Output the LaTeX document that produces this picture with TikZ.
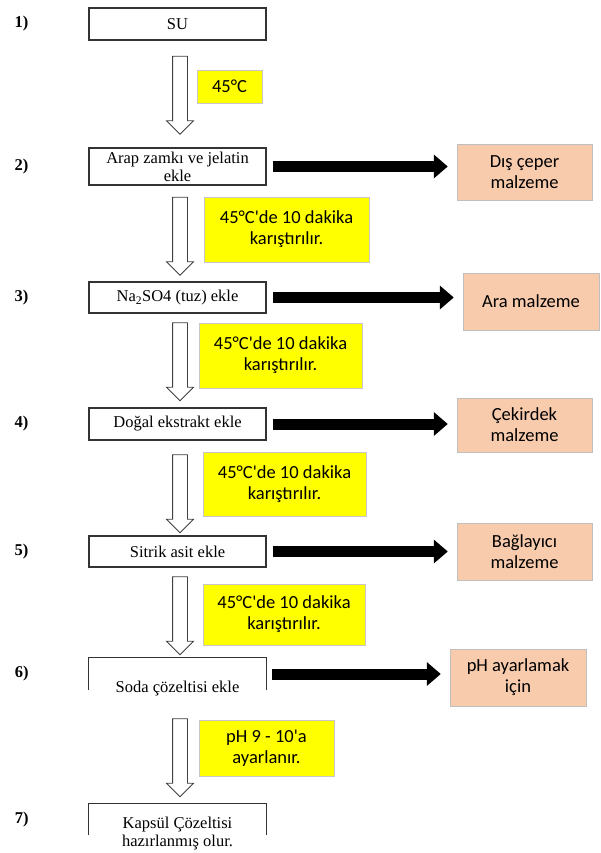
\documentclass[tikz,border=0pt]{standalone}
\usepackage{fontspec}
\setmainfont{Liberation Serif}
\newfontfamily\calibri{Carlito}
\usetikzlibrary{positioning,arrows.meta,shapes.arrows}

\definecolor{peach}{HTML}{F8CBAD}
\definecolor{notebg}{HTML}{FFFF00}

\begin{document}
\begin{tikzpicture}[
  x=1pt, y=-1pt,
  frame/.style={draw=black!80, line width=1.1pt},
  stepbox/.style={frame, minimum width=177pt, minimum height=32pt,
                  inner sep=1pt, align=center,
                  font=\fontsize{16.5}{18}\selectfont},
  openbox/.style={minimum width=177pt, minimum height=32pt, inner sep=0pt},
  steptext/.style={inner sep=0pt, align=center,
                   font=\fontsize{16.5}{18}\selectfont},
  num/.style={inner sep=0pt, font=\fontsize{16.5}{18}\selectfont\bfseries},
  note/.style={fill=notebg, draw=black!22, align=center, inner sep=0pt,
               font=\calibri\fontsize{18.5}{21}\selectfont},
  part/.style={fill=peach, draw=black!25, align=center, inner sep=0pt,
               minimum width=135pt, minimum height=56pt,
               font=\calibri\fontsize{18.5}{21}\selectfont},
  hollow/.style={single arrow, draw=black!75, fill=white, line width=0.8pt,
                 rotate=-90, inner sep=7pt, single arrow head extend=6pt,
                 minimum height=78pt},
  arr/.style={-{Triangle[length=14pt,width=23pt]}, line width=11pt,
              shorten <=6pt, shorten >=9pt}
]
\useasboundingbox (0,0) rectangle (601,853);

\node[stepbox] (b1) at (177.5,24) {SU};
\node[stepbox, minimum height=37pt] (b2) at (177.5,166.5) {Arap zamkı ve jelatin\\ekle};
\node[stepbox, minimum height=31pt] (b3) at (177.5,297.5) {Na\textsubscript{2}SO4 (tuz) ekle};
\node[stepbox] (b4) at (177.5,424) {Doğal ekstrakt ekle};
\node[stepbox, minimum height=31pt] (b5) at (177.5,551.5) {Sitrik asit ekle};
\node[openbox] (b6) at (177.5,674) {};
\draw[frame] (b6.south west) |- (b6.north east) -- (b6.south east);
\node[steptext, anchor=base] (t6) at ([yshift=-2pt]b6.south) {Soda çözeltisi ekle};
\node[openbox, minimum height=31pt] (b7) at (177.5,819.5) {};
\draw[frame] (b7.south west) |- (b7.north east) -- (b7.south east);
\node[steptext, anchor=base] (t7) at ([yshift=-11pt]b7.south) {Kapsül Çözeltisi\\hazırlanmış olur.};

\node[num, left=60pt of b1] (n1) {1)};
\node[num, left=60pt of b2] (n2) {2)};
\node[num, left=60pt of b3] (n3) {3)};
\node[num, left=60pt of b4] (n4) {4)};
\node[num, left=60pt of b5] (n5) {5)};
\node[num, left=60pt of b6] (n6) {6)};
\node[num, left=60pt of b7] (n7) {7)};

\node[hollow] (h1) at (180,91.5) {};
\node[hollow] (h2) at (180,232.5) {};
\node[hollow] (h3) at (180,358) {};
\node[hollow] (h4) at (180,490) {};
\node[hollow] (h5) at (180,612) {};
\node[hollow] (h6) at (180,754) {};

\node[note, minimum width=65pt, minimum height=33pt] (y1) at (229.5,86.5) {45°C};
\node[note, minimum width=165pt, minimum height=65pt] (y2) at (286.5,229.5) {45°C'de 10 dakika\\karıştırılır.};
\node[note, minimum width=163pt, minimum height=65pt] (y3) at (280.5,355.5) {45°C'de 10 dakika\\karıştırılır.};
\node[note, minimum width=163pt, minimum height=64pt] (y4) at (284.5,484) {45°C'de 10 dakika\\karıştırılır.};
\node[note, minimum width=162pt, minimum height=61pt] (y5) at (284,614.5) {45°C'de 10 dakika\\karıştırılır.};
\node[note, minimum width=135pt, minimum height=56pt] (y6) at (266.5,748) {pH 9 - 10'a\\ayarlanır.};

\node[part] (p2) at (524.5,172) {Dış çeper\\malzeme};
\node[part, minimum width=136pt, minimum height=57pt] (p3) at (531,301.5) {Ara malzeme};
\node[part, minimum height=54pt] (p4) at (524.5,425) {Çekirdek\\malzeme};
\node[part, minimum height=57pt] (p5) at (524.5,551.5) {Bağlayıcı\\malzeme};
\node[part, minimum width=136pt, minimum height=57pt] (p6) at (518,677.5) {pH ayarlamak\\için};

\draw[arr] (b2.east) -- (b2.east -| p2.west);
\draw[arr] (b3.east) -- (b3.east -| p3.west);
\draw[arr] (b4.east) -- (b4.east -| p4.west);
\draw[arr] (b5.east) -- (b5.east -| p5.west);
\draw[arr] (b6.east) -- (b6.east -| p6.west);
\end{tikzpicture}
\end{document}
